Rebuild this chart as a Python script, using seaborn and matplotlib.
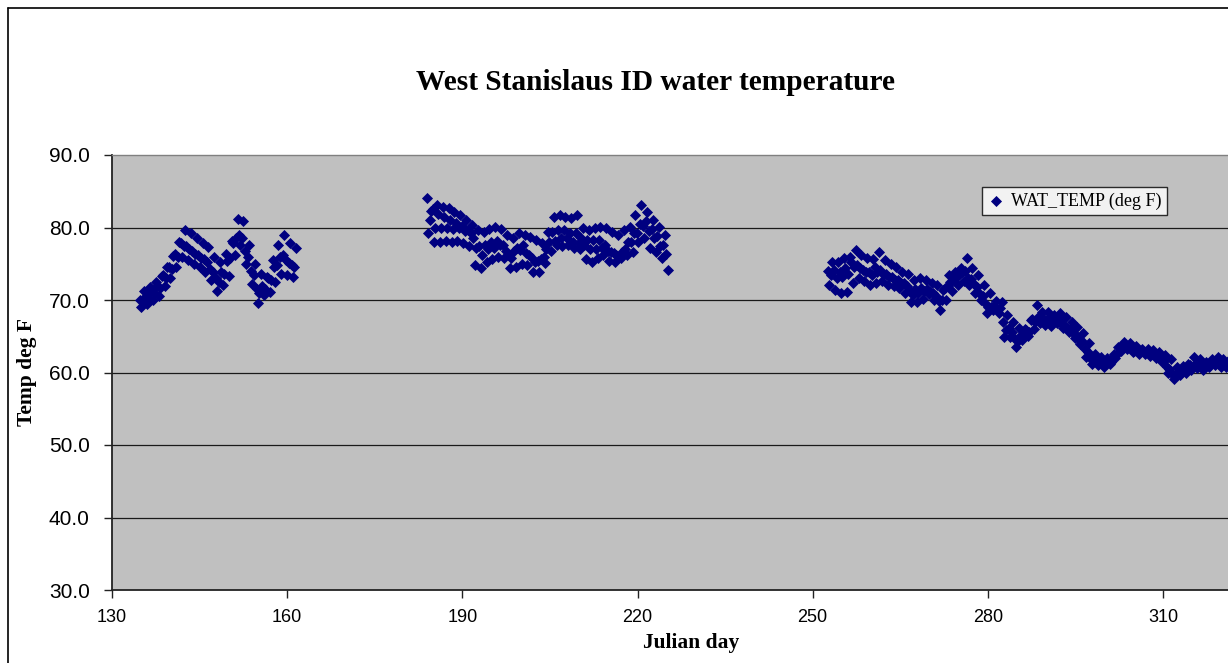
import numpy as np
import pandas as pd
import matplotlib
matplotlib.use("Agg")
import matplotlib.pyplot as plt
from matplotlib.lines import Line2D
import seaborn as sns

# ---------------- data ----------------
# water temperature readings, 4 per day (every 6 hours)
c1_start = 134.75
c1_temps = [
    70.0, 69.0, 69.8, 71.2,
    70.6, 69.4, 70.3, 71.8,
    71.2, 70.0, 70.9, 72.5,
    71.9, 70.5, 71.6, 73.3,
    73.4, 71.9, 73.0, 74.6,
    74.6, 73.0, 74.3, 76.1,
    76.3, 74.6, 75.9, 78.0,
    77.8, 76.0, 77.4, 79.7,
    77.5, 75.5, 77.0, 79.3,
    76.7, 75.0, 76.3, 78.5,
    76.2, 74.5, 75.8, 77.9,
    75.6, 73.9, 75.2, 77.3,
    74.3, 72.8, 73.9, 75.9,
    73.0, 71.2, 72.5, 75.2,
    73.8, 72.1, 73.6, 76.3,
    75.4, 73.3, 75.8, 78.1,
    77.9, 76.2, 78.5, 81.2,
    79.0, 77.6, 78.6, 80.9,
    76.8, 75.0, 76.0, 77.6,
    74.0, 72.2, 73.4, 75.0,
    71.5, 69.6, 71.0, 73.6,
    72.0, 70.7, 71.5, 73.2,
    73.0, 71.1, 72.8, 75.5,
    74.6, 72.5, 74.8, 77.6,
    76.0, 73.6, 76.2, 79.0,
    75.5, 73.4, 75.1, 77.9,
    74.8, 73.2, 74.6, 77.2,
]

c2_start = 183.9
c2_temps = [
    84.1, 79.2, 81.0, 82.3,
    82.6, 78.0, 80.0, 83.1,
    81.8, 78.0, 79.9, 82.8,
    81.5, 78.1, 80.0, 82.7,
    81.0, 78.0, 79.8, 82.1,
    80.6, 78.1, 79.9, 81.7,
    80.2, 77.8, 79.5, 81.0,
    79.6, 77.4, 79.2, 80.4,
    78.5, 74.8, 77.2, 79.7,
    77.5, 74.4, 76.2, 79.4,
    77.6, 75.2, 77.0, 79.8,
    78.0, 75.6, 77.2, 80.1,
    78.2, 76.0, 77.6, 79.8,
    77.6, 75.8, 76.8, 79.0,
    76.2, 74.4, 75.8, 78.6,
    76.8, 74.6, 77.2, 79.2,
    76.9, 75.0, 77.6, 79.0,
    76.5, 74.8, 76.2, 78.7,
    75.8, 73.9, 75.2, 78.3,
    75.4, 73.8, 75.6, 77.8,
    76.0, 75.1, 77.0, 79.4,
    78.0, 76.8, 79.4, 81.4,
    78.2, 77.6, 79.7, 81.7,
    78.5, 77.4, 79.6, 81.5,
    78.6, 77.6, 79.3, 81.3,
    78.0, 77.2, 79.2, 81.7,
    77.8, 77.0, 78.5, 80.0,
    77.6, 75.6, 78.3, 79.6,
    77.0, 75.2, 78.3, 79.9,
    77.0, 75.8, 78.3, 80.1,
    77.2, 76.2, 77.6, 80.0,
    76.8, 75.4, 76.6, 79.4,
    76.5, 75.2, 76.2, 79.0,
    76.0, 75.8, 76.6, 79.6,
    77.0, 76.2, 78.0, 80.1,
    78.0, 76.6, 79.2, 81.7,
    79.2, 78.0, 80.5, 83.1,
    80.2, 78.6, 80.9, 82.1,
    79.5, 77.2, 79.8, 81.0,
    78.6, 76.6, 78.8, 80.1,
    77.4, 75.8, 77.6, 79.0,
    76.4, 74.1,
]

c3_start = 252.6
c3_temps = [
    74.0, 72.1, 73.4, 75.2,
    74.2, 71.4, 73.0, 75.2,
    73.8, 71.0, 73.2, 75.8,
    74.4, 71.1, 73.6, 76.0,
    75.2, 72.3, 74.6, 76.9,
    74.8, 73.0, 74.4, 76.2,
    74.2, 72.6, 73.8, 75.8,
    73.8, 72.1, 73.4, 75.6,
    74.6, 72.4, 73.9, 76.6,
    74.2, 72.6, 73.6, 75.5,
    73.6, 72.1, 73.2, 75.0,
    73.2, 71.9, 72.8, 74.6,
    72.8, 71.7, 72.4, 73.9,
    72.4, 71.0, 72.0, 73.6,
    71.2, 69.7, 70.7, 72.8,
    71.5, 69.7, 71.0, 73.0,
    71.6, 70.2, 71.2, 72.8,
    71.5, 70.8, 71.1, 72.4,
    71.0, 70.0, 70.6, 72.1,
    69.8, 68.6, 70.0, 71.4,
    71.6, 70.0, 72.0, 73.4,
    72.5, 71.2, 72.8, 73.9,
    73.2, 72.1, 73.4, 74.4,
    73.8, 72.6, 74.0, 75.8,
    73.0, 72.1, 72.9, 74.4,
    72.2, 71.0, 71.8, 73.4,
    70.8, 70.0, 70.6, 72.1,
    69.4, 68.2, 69.0, 71.0,
    69.0, 68.6, 69.2, 69.9,
    68.8, 68.2, 68.9, 69.7,
    67.0, 64.9, 65.9, 68.0,
    66.2, 64.9, 65.6, 67.0,
    64.6, 63.5, 64.4, 66.2,
    65.2, 64.5, 65.0, 66.0,
    65.8, 65.0, 65.6, 67.2,
    67.4, 66.0, 67.0, 69.3,
    67.6, 66.8, 67.4, 68.4,
    67.4, 66.6, 67.2, 68.3,
    67.2, 66.4, 67.0, 68.0,
    67.4, 66.8, 67.3, 68.2,
    66.8, 66.2, 66.6, 67.6,
    66.2, 65.6, 66.0, 67.0,
    65.5, 64.8, 65.2, 66.3,
    64.6, 64.0, 64.4, 65.4,
    63.2, 62.2, 62.8, 64.1,
    61.8, 61.2, 61.6, 62.6,
    61.5, 61.0, 61.3, 62.2,
    61.3, 60.8, 61.2, 62.0,
    61.6, 61.2, 61.5, 62.2,
    62.6, 62.0, 62.6, 63.5,
    63.5, 63.0, 63.4, 64.2,
    63.6, 63.2, 63.5, 64.1,
    63.2, 62.8, 63.0, 63.6,
    62.9, 62.6, 62.8, 63.2,
    62.9, 62.6, 62.8, 63.2,
    62.7, 62.3, 62.5, 63.1,
    62.4, 62.0, 62.2, 62.8,
    61.8, 61.4, 61.6, 62.4,
    60.8, 60.0, 60.5, 61.8,
    59.8, 59.1, 59.6, 60.8,
    60.2, 59.6, 60.0, 60.9,
    60.5, 60.0, 60.4, 61.2,
    61.0, 60.4, 60.9, 62.1,
    61.0, 60.6, 60.9, 61.8,
    60.8, 60.3, 60.6, 61.4,
    61.2, 60.8, 61.1, 61.8,
    61.4, 61.0, 61.3, 62.1,
    61.2, 60.8, 61.0, 61.8,
    61.1, 60.7, 61.0, 61.7,
]
sample_step = 0.25  # days between readings

x_ticks = [130, 160, 190, 220, 250, 280, 310]
y_ticks = [30, 40, 50, 60, 70, 80, 90]
title = "West Stanislaus ID water temperature"
x_label = "Julian day"
y_label = "Temp deg F"
series_name = "WAT_TEMP (deg F)"

# ---------------- build table ----------------
frames = []
for start, temps in [(c1_start, c1_temps), (c2_start, c2_temps), (c3_start, c3_temps)]:
    days = start + sample_step * np.arange(len(temps))
    frames.append(pd.DataFrame({"day": days, "temp": temps}))
df = pd.concat(frames, ignore_index=True)

# ---------------- plot ----------------
sns.set_theme(style="white")
plt.rcParams["font.family"] = ["Liberation Sans", "DejaVu Sans"]
plt.rcParams["text.color"] = "black"
plt.rcParams["axes.labelcolor"] = "black"
plt.rcParams["xtick.color"] = "black"
plt.rcParams["ytick.color"] = "black"

W, H = 1228, 663
fig = plt.figure(figsize=(W / 100, H / 100), dpi=100)
fig.patch.set_facecolor("white")

left, right, top, bottom = 112, 1228, 155, 590
ax = fig.add_axes([left / W, 1 - bottom / H, (right - left) / W, (bottom - top) / H])
ax.set_facecolor("#C0C0C0")

sns.scatterplot(data=df, x="day", y="temp", ax=ax, marker="D", s=32,
                color="#000080", linewidth=0, label=series_name, zorder=3)
ax.set_xlabel("")
ax.set_ylabel("")

x_max = 130 + (right - left) / 5.839
ax.set_xlim(130, x_max)
ax.set_ylim(30, 90)
ax.set_xticks(x_ticks)
ax.set_yticks(y_ticks)
ax.set_yticklabels([f"{v:.1f}" for v in y_ticks])

ax.grid(False)
for v in y_ticks[1:-1]:
    ax.axhline(v, color="#1a1a1a", lw=0.9, zorder=1)

for side in ["left", "bottom"]:
    ax.spines[side].set_color("#222222")
    ax.spines[side].set_linewidth(1.3)
ax.spines["top"].set_color("#808080")
ax.spines["top"].set_linewidth(1.0)
ax.spines["right"].set_visible(False)

ax.tick_params(axis="both", which="major", direction="out", length=6, width=1,
               color="#222222", labelcolor="black", left=True, bottom=True)
ax.tick_params(axis="y", labelsize=15, pad=10)
ax.tick_params(axis="x", labelsize=13, pad=8)

serif = ["Liberation Serif", "DejaVu Serif"]
fig.text(691 / W, 1 - 643 / H, x_label, ha="center", va="center", color="black",
         fontsize=15.5, fontweight="bold", family=serif)
fig.text(27 / W, 1 - 372 / H, y_label, ha="center", va="center", rotation=90,
         color="black", fontsize=15.5, fontweight="bold", family=serif)
fig.text(655 / W, 1 - 83 / H, title, ha="center", va="center", color="black",
         fontsize=21.2, fontweight="bold", family=serif)

leg = ax.legend(loc="upper left", bbox_to_anchor=(982 / W, 1 - 187 / H),
                bbox_transform=fig.transFigure, frameon=True, fancybox=False,
                prop={"family": serif, "size": 13}, borderpad=0.3,
                handletextpad=0.3, handlelength=1.0, borderaxespad=0)
leg.get_frame().set_facecolor("white")
leg.get_frame().set_edgecolor("black")
leg.get_frame().set_linewidth(1.0)
for t in leg.get_texts():
    t.set_color("black")

# outer chart border
fig.add_artist(Line2D([8 / W, 8 / W], [0, 1 - 8 / H], transform=fig.transFigure,
                      color="black", lw=1.2))
fig.add_artist(Line2D([8 / W, 1], [1 - 8 / H, 1 - 8 / H], transform=fig.transFigure,
                      color="black", lw=1.2))

fig.savefig("out.png", dpi=100)
